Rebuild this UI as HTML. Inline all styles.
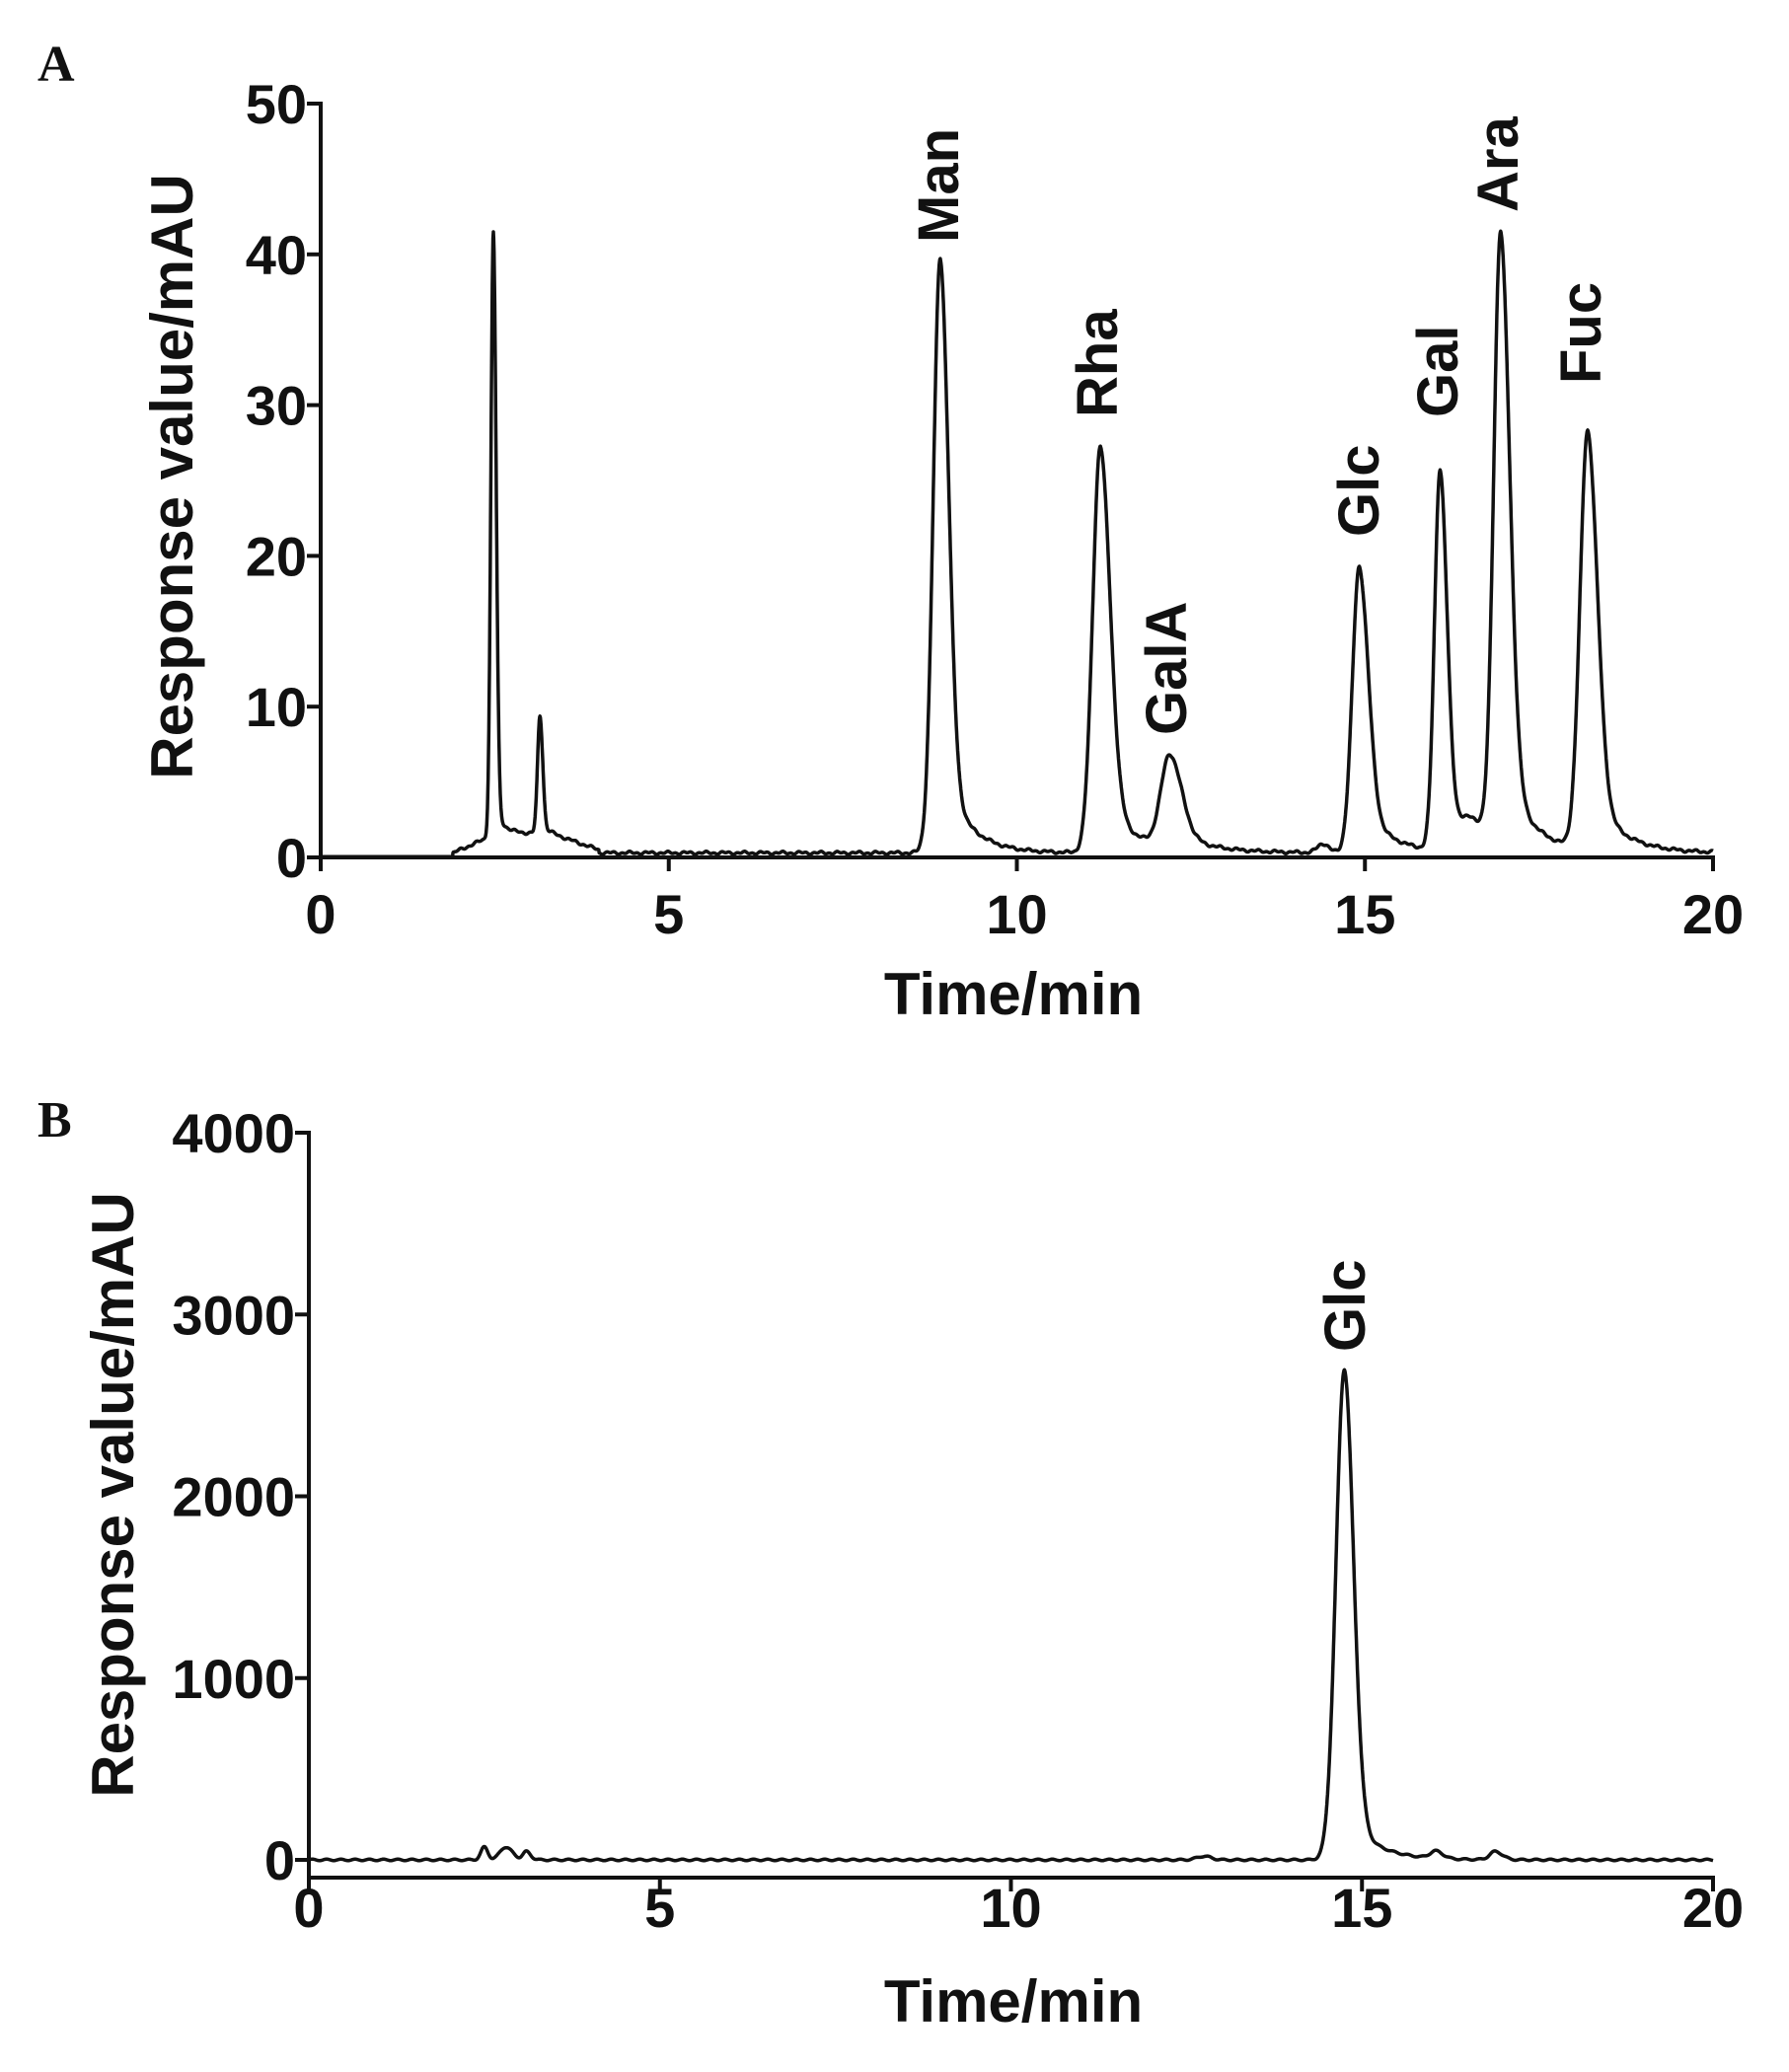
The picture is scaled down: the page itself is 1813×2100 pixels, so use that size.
<!DOCTYPE html>
<html><head><meta charset="utf-8"><style>
html,body{margin:0;padding:0;background:#fff;}
svg{display:block;}
.t{font-family:"Liberation Sans Narrow","Liberation Sans",sans-serif;font-weight:bold;font-size:56px;fill:#111;}
.l{font-family:"Liberation Sans",sans-serif;font-weight:bold;font-size:60px;fill:#111;}
.p{font-family:"Liberation Sans",sans-serif;font-weight:bold;font-size:58px;fill:#111;}
.pl{font-family:"Liberation Serif",serif;font-weight:bold;font-size:52px;fill:#111;}
</style></head><body>
<svg id="s" width="1813" height="2100" viewBox="0 0 1813 2100" xmlns="http://www.w3.org/2000/svg">
<text class="pl" x="38" y="82">A</text>
<text class="pl" x="38" y="1152">B</text>
<g id="ga"></g>
<g id="gb"></g>
</svg>
<script>
const NS="http://www.w3.org/2000/svg";
function el(p,tag,attrs,txt){const e=document.createElementNS(NS,tag);for(const k in attrs)e.setAttribute(k,attrs[k]);if(txt!==undefined)e.textContent=txt;p.appendChild(e);return e;}
function peak(t,c,h,sl,sr,tail){
  let v;
  if(t<c) v=h*Math.exp(-0.5*((t-c)/sl)**2);
  else v=h*((1-tail)*Math.exp(-0.5*((t-c)/sr)**2)+tail*Math.exp(-(t-c)/(sr*3)));
  return v;
}
function drawPanel(g,cfg){
  const X=t=>cfg.x0+(cfg.x1-cfg.x0)*t/20;
  const Y=v=>cfg.y0-(cfg.y0-cfg.yTop)*v/cfg.ymax;
  el(g,'line',{x1:cfg.x0,y1:cfg.yTop-2,x2:cfg.x0,y2:cfg.xAxisY+2,stroke:'#111','stroke-width':4});
  el(g,'line',{x1:cfg.x0-2,y1:cfg.xAxisY,x2:cfg.x1+2,y2:cfg.xAxisY,stroke:'#111','stroke-width':4});
  cfg.yt.forEach(v=>{const y=Y(v);el(g,'line',{x1:cfg.x0-14,y1:y,x2:cfg.x0,y2:y,stroke:'#111','stroke-width':4});
    el(g,'text',{class:'t',x:cfg.x0-14,y:y+20,'text-anchor':'end'},String(v));});
  [0,5,10,15,20].forEach(v=>{const x=X(v);el(g,'line',{x1:x,y1:cfg.xAxisY,x2:x,y2:cfg.xAxisY+14,stroke:'#111','stroke-width':4});
    el(g,'text',{class:'t',x:x,y:cfg.tickY,'text-anchor':'middle'},String(v));});
  el(g,'text',{class:'l',x:1027,y:cfg.titleY,'text-anchor':'middle'},'Time/min');
  el(g,'text',{class:'l',x:0,y:0,'text-anchor':'middle',transform:`translate(${cfg.ylx},${cfg.yly}) rotate(-90)`},'Response value/mAU');
  let d='';
  for(let i=0;i<=4000;i++){const t=i*20/4000;let v=cfg.f(t);d+=(i?'L':'M')+X(t).toFixed(1)+' '+Y(v).toFixed(1);}
  el(g,'path',{d:d,fill:'none',stroke:'#111','stroke-width':3.5,'stroke-linejoin':'round'});
  cfg.labels.forEach(([txt,x,yb])=>el(g,'text',{class:'p',x:0,y:0,transform:`translate(${x+20},${yb}) rotate(-90)`},txt));
}
drawPanel(document.getElementById('ga'),{x0:325,x1:1736,y0:869,yTop:105,ymax:50,xAxisY:869,yt:[0,10,20,30,40,50],ylx:195,yly:483,tickY:946,titleY:1028,
 f:t=>{let b=(t<1.9?0.05:0.3)+(t>1.9&&t<=2.5?1.2*(t-1.9)/0.6:0)+(t>2.5&&t<=3.3?1.3:0)+(t>3.3&&t<4?1.3-1.1*(t-3.3)/0.7:0);
  b+=(t>1.9?0.06*Math.sin(t*23)+0.05*Math.sin(t*57):0);
  return b+peak(t,2.48,40,0.035,0.04,0.05)+peak(t,3.15,7.8,0.035,0.04,0.05)+peak(t,8.9,39.5,0.1,0.12,0.15)
  +peak(t,11.2,27,0.11,0.14,0.15)+peak(t,12.2,6.2,0.13,0.17,0.2)+peak(t,14.4,0.6,0.08,0.08,0)+peak(t,14.92,19,0.1,0.13,0.18)
  +peak(t,16.08,25.3,0.08,0.1,0.15)+peak(t,16.95,41,0.1,0.13,0.15)+peak(t,18.2,27.8,0.11,0.14,0.15)+peak(t,16.55,1.5,0.15,0.15,0);}
 ,labels:[['Man',951,246],['Rha',1112,423],['GalA',1182,745],['Glc',1377,544],['Gal',1457,423],['Ara',1518,215],['Fuc',1602,389]]});
drawPanel(document.getElementById('gb'),{x0:313,x1:1736,y0:1885,yTop:1148,ymax:4000,xAxisY:1903,yt:[0,1000,2000,3000,4000],ylx:135,yly:1515,tickY:1953,titleY:2049,
 f:t=>{return peak(t,2.5,70,0.05,0.05,0)+peak(t,2.8,70,0.08,0.1,0)+peak(t,3.1,45,0.05,0.06,0)+peak(t,12.75,20,0.1,0.1,0)
  +peak(t,14.75,2700,0.12,0.13,0.1)+peak(t,16.05,40,0.08,0.1,0)+peak(t,16.9,45,0.08,0.1,0)+4*Math.sin(t*31);}
 ,labels:[['Glc',1363,1370]]});
</script>
</body></html>
